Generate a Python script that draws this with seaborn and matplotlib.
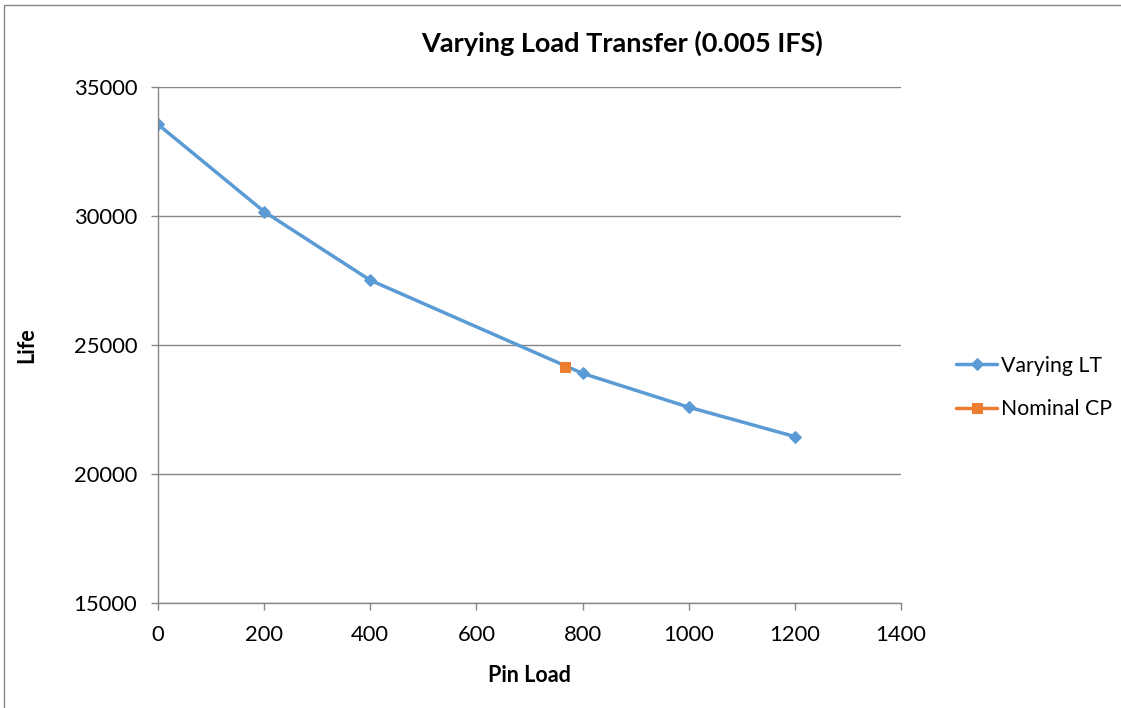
import matplotlib
matplotlib.use("Agg")
import matplotlib.pyplot as plt
import seaborn as sns
import pandas as pd
from matplotlib.patches import Rectangle

pin_load = [0, 200, 400, 800, 1000, 1200]
life = [33550, 30170, 27510, 23900, 22590, 21450]
nominal_load = [766]
nominal_life = [24155]

series_names = ["Varying LT", "Nominal CP"]
x_ticks = [0, 200, 400, 600, 800, 1000, 1200, 1400]
y_ticks = [15000, 20000, 25000, 30000, 35000]

sns.set_theme(style="white")
plt.rcParams['font.family'] = ['Lato', 'DejaVu Sans']
plt.rcParams['text.color'] = 'black'
plt.rcParams['axes.labelcolor'] = 'black'

fig = plt.figure(figsize=(11.21, 7.08), dpi=100)
ax = fig.add_axes([158/1121, 1-603/708, (901-158)/1121, (603-87)/708])

df1 = pd.DataFrame({"x": pin_load, "y": life})
df2 = pd.DataFrame({"x": nominal_load, "y": nominal_life})

sns.lineplot(data=df1, x="x", y="y", ax=ax, color="#5B9BD5", lw=2.5,
             marker="D", markersize=6.5, markeredgecolor="#5B9BD5",
             label=series_names[0])
sns.lineplot(data=df2, x="x", y="y", ax=ax, color="#ED7D31", lw=2.5,
             marker="s", markersize=7, markeredgecolor="#ED7D31",
             label=series_names[1])

ax.set_xlim(0, 1400)
ax.set_ylim(15000, 35000)
ax.set_xticks(x_ticks)
ax.set_yticks(y_ticks)
ax.tick_params(axis="both", labelsize=15.8, labelcolor="#000000", length=5,
               width=1, direction="out", bottom=True, left=True, color="#868686")
ax.tick_params(axis="x", pad=11)
ax.tick_params(axis="y", pad=10)
ax.grid(axis="y", color="#868686", lw=1)
ax.grid(axis="x", visible=False)
for s in ["top", "right"]:
    ax.spines[s].set_visible(False)
for s in ["left", "bottom"]:
    ax.spines[s].set_color("#868686")
    ax.spines[s].set_linewidth(1)

ax.set_xlabel("Pin Load", fontsize=15.5, fontweight="bold", labelpad=14)
ax.set_ylabel("Life", fontsize=15.5, fontweight="bold", labelpad=26)
fig.text(622/1121, 1-43/708, "Varying Load Transfer (0.005 IFS)",
         fontsize=19.5, fontweight="bold", ha="center", va="center")

leg = ax.legend(loc="center left", bbox_to_anchor=(1.048, 0.418), frameon=False,
                fontsize=15.3, handlelength=1.95, handletextpad=0.2,
                labelspacing=1.1)

fig.patches.append(Rectangle((4/1121, -0.1), 1.2, 1 - 5/708 + 0.1,
                             transform=fig.transFigure, fill=False,
                             edgecolor="#868686", lw=1))

fig.savefig("out.png", dpi=100)
